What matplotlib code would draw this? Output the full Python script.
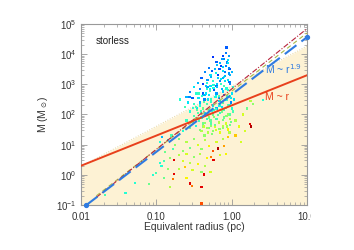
import numpy as np
import matplotlib
matplotlib.use("Agg")
import matplotlib.pyplot as plt
from matplotlib.ticker import FixedLocator, FixedFormatter, LogLocator, NullFormatter
from matplotlib.colors import Normalize
from matplotlib.transforms import Bbox

plt.rcParams['font.family'] = ['Liberation Sans', 'DejaVu Sans']

# ---- data ----
x_ticks = [0.01, 0.1, 1.0, 10.0]
x_tick_labels = ["0.01", "0.10", "1.00", "10.0"]

# clumps: log10 radius (pc), log10 mass (Msun), colour value (jet scale 0..1)
clump_logr = [
    -0.07, -0.12, -0.10, -0.25, -0.20, -0.15, -0.05, -0.08, -0.30, -0.22, -0.12, -0.03, -0.35, -0.28, -0.18, -0.10, -0.02,
    -0.40, -0.32, -0.25, -0.15, -0.05, -0.45, -0.38, -0.28, -0.20, -0.10, -0.02,
    -0.50, -0.42, -0.33, -0.23, -0.13, -0.05, -0.55, -0.47, -0.38, -0.30, -0.20, -0.10, 0.00,
    -0.60, -0.52, -0.44, -0.36, -0.27, -0.17, -0.08, -0.69, -0.56,
    -0.58, -0.50, -0.42, -0.33, -0.25, -0.15, -0.05, -0.62, -0.46, -0.38, -0.30, -0.20, -0.10, 0.00,
    -0.55, -0.45, -0.35, -0.25, -0.15, -0.05, -0.50, -0.40, -0.30, -0.20, -0.10, -0.02,
    -0.60, -0.52, -0.43, -0.35, -0.27, -0.17, -0.08, -0.02, -0.47, -0.38, -0.30, -0.22, -0.12, -0.05,
    -0.55, -0.65, -0.40, -0.25, -0.15, -0.03,
    -0.92, -0.95, -0.85, -0.80, -0.70, -0.75, -0.60, -0.50, -0.45, -0.35, -0.30, -0.20, -0.12, -0.05,
    -0.10, -0.18, -0.25, -0.40, -0.55, -0.65, -0.78, -0.88, -0.70, -0.60, -0.50, -0.42, -0.33, -0.24,
    -0.27, -0.15, -0.08,
    -0.77, -0.82, -0.90, -0.95, -0.93, -0.65, -0.55, -0.45, -0.35, -0.62, -0.70, -0.85, -0.52, -0.40,
    -0.77, -0.37, -0.60, -1.04, -1.00, -0.90, -0.78, -0.55, -0.53, -0.40, -0.28, -1.28, -1.41, -1.68,
    -0.40, -1.10, -0.82,
    0.42, 0.25, 0.28, 0.20, 0.15, 0.05, 0.10, 0.18, 0.24, 0.26, 0.05, 0.12, 0.02, 0.03, 0.00, 0.02,
    -0.14, -0.09, -0.04, -0.18, -0.26, -0.11, -0.06, -0.32, -0.16, -0.21, -0.36, -0.01, -0.13, -0.24,
    # denser core of the cloud
    -0.06, -0.11, -0.16, -0.21, -0.27, -0.33, -0.04, -0.09, -0.14, -0.19, -0.24, -0.29, -0.34, -0.39,
    -0.03, -0.07, -0.12, -0.17, -0.22, -0.27, -0.31, -0.37, -0.42, -0.47, -0.01, -0.06, -0.11, -0.16,
    -0.21, -0.26, -0.31, -0.36, -0.41, -0.46, -0.51, -0.03, -0.08, -0.13, -0.18, -0.23, -0.28, -0.33,
    -0.38, -0.43, -0.48, -0.02, -0.07, -0.12, -0.17, -0.22, -0.27, -0.32, -0.37, -0.42, -0.01, -0.06,
    -0.11, -0.16, -0.21, -0.26, -0.31, -0.36, -0.04, -0.09, -0.14, -0.19, -0.24, -0.29, -0.34, -0.44,
    -0.08, -0.13, -0.19, -0.05, -0.12, -0.02,
]
clump_logm = [
    4.22, 3.95, 3.85, 3.90, 3.75, 3.70, 3.80, 3.60, 3.55, 3.50, 3.45, 3.50, 3.40, 3.30, 3.30, 3.25, 3.30,
    3.20, 3.15, 3.10, 3.10, 3.15, 3.05, 3.00, 2.95, 2.95, 2.95, 3.00,
    2.90, 2.85, 2.85, 2.80, 2.85, 2.80, 2.75, 2.70, 2.70, 2.65, 2.70, 2.65, 2.70,
    2.58, 2.55, 2.55, 2.50, 2.50, 2.55, 2.50, 2.50, 2.57,
    2.40, 2.35, 2.40, 2.35, 2.30, 2.35, 2.30, 2.25, 2.20, 2.20, 2.15, 2.20, 2.15, 2.20,
    2.10, 2.05, 2.05, 2.00, 2.05, 2.00, 1.95, 1.90, 1.90, 1.85, 1.90, 1.85,
    1.80, 1.75, 1.78, 1.72, 1.70, 1.72, 1.70, 1.65, 1.62, 1.60, 1.55, 1.58, 1.55, 1.50,
    1.55, 1.45, 1.45, 1.45, 1.40, 1.40,
    1.26, 1.10, 1.15, 1.30, 1.20, 1.00, 1.10, 1.20, 1.00, 1.15, 0.95, 1.10, 1.20, 1.25,
    0.95, 0.87, 0.80, 0.85, 0.90, 0.80, 0.85, 0.75, 0.65, 0.70, 0.60, 0.70, 0.55, 0.49,
    0.60, 0.65, 0.70,
    0.49, 0.55, 0.45, 0.38, 0.30, 0.45, 0.40, 0.35, 0.30, 0.25, 0.20, 0.20, 0.15, 0.10,
    0.04, 0.01, -0.10, -0.01, 0.05, -0.10, -0.15, -0.29, -0.38, -0.40, 0.10, -0.27, -0.60, -0.68,
    -0.95, -0.30, -0.40,
    2.48, 2.45, 2.35, 2.20, 2.00, 1.80, 1.60, 1.45, 1.68, 1.60, 1.30, 1.10, 2.10, 2.50, 3.40, 2.90,
    3.62, 3.40, 3.95, 3.20, 3.45, 2.75, 2.60, 2.90, 2.45, 2.60, 2.65, 2.40, 2.25, 2.15,
    # denser core of the cloud
    3.72, 3.58, 3.52, 3.38, 3.25, 3.05, 3.36, 3.12, 3.02, 2.92, 2.88, 2.78, 2.70, 2.62,
    3.08, 2.86, 2.76, 2.62, 2.58, 2.42, 2.50, 2.42, 2.30, 2.25, 2.55, 2.48, 2.40, 2.28,
    2.18, 2.12, 2.02, 1.96, 2.10, 2.15, 2.22, 2.32, 2.22, 2.10, 1.98, 1.92, 1.80, 1.85,
    1.70, 1.82, 1.86, 2.00, 1.95, 1.82, 1.76, 1.66, 1.62, 1.55, 1.60, 1.48, 1.75, 1.60,
    1.62, 1.52, 1.48, 1.35, 1.40, 1.30, 3.55, 3.28, 3.18, 3.02, 2.98, 2.85, 2.95, 2.70,
    4.05, 3.85, 3.65, 3.70, 3.20, 2.60,
]
clump_color = [
    0.15, 0.12, 0.20, 0.10, 0.15, 0.25, 0.30, 0.20, 0.18, 0.25, 0.30, 0.15, 0.20, 0.30, 0.12, 0.35, 0.25,
    0.15, 0.22, 0.35, 0.20, 0.30, 0.25, 0.12, 0.30, 0.18, 0.40, 0.20,
    0.30, 0.20, 0.35, 0.15, 0.25, 0.35, 0.20, 0.35, 0.15, 0.30, 0.22, 0.18, 0.30,
    0.25, 0.15, 0.30, 0.20, 0.38, 0.25, 0.30, 0.35, 0.20,
    0.30, 0.38, 0.25, 0.40, 0.30, 0.35, 0.45, 0.40, 0.30, 0.45, 0.35, 0.25, 0.40, 0.35,
    0.35, 0.42, 0.30, 0.45, 0.38, 0.50, 0.40, 0.35, 0.50, 0.40, 0.45, 0.55,
    0.38, 0.45, 0.40, 0.50, 0.42, 0.55, 0.60, 0.45, 0.35, 0.50, 0.45, 0.60, 0.50, 0.65,
    0.45, 0.35, 0.55, 0.50, 0.62, 0.55,
    0.25, 0.35, 0.30, 0.40, 0.45, 0.50, 0.55, 0.50, 0.60, 0.55, 0.65, 0.60, 0.55, 0.70,
    0.75, 1.00, 0.85, 0.50, 0.45, 0.50, 0.40, 0.45, 0.55, 0.60, 0.50, 0.55, 0.65, 0.95,
    0.80, 0.60, 0.65,
    0.95, 0.50, 0.40, 0.35, 0.35, 0.60, 0.55, 0.65, 0.55, 0.70, 0.55, 0.50, 0.60, 0.50,
    0.95, 0.95, 0.65, 0.35, 0.40, 0.45, 0.80, 0.95, 0.80, 0.95, 0.60, 0.35, 0.35, 0.40,
    0.85, 0.45, 0.55,
    0.35, 0.55, 0.50, 0.45, 0.60, 0.55, 0.62, 0.60, 0.95, 1.00, 0.70, 0.60, 0.40, 0.30, 0.25, 0.35,
    0.12, 0.18, 0.22, 0.28, 0.15, 0.32, 0.38, 0.22, 0.28, 0.33, 0.25, 0.20, 0.30, 0.35,
    # denser core of the cloud
    0.20, 0.28, 0.15, 0.32, 0.25, 0.35, 0.22, 0.30, 0.38, 0.26, 0.33, 0.40, 0.30, 0.36,
    0.18, 0.35, 0.28, 0.40, 0.33, 0.37, 0.30, 0.42, 0.35, 0.40, 0.30, 0.38, 0.44, 0.33,
    0.40, 0.36, 0.45, 0.40, 0.38, 0.42, 0.36, 0.34, 0.40, 0.46, 0.42, 0.50, 0.44, 0.38,
    0.45, 0.40, 0.48, 0.42, 0.50, 0.46, 0.55, 0.44, 0.50, 0.52, 0.58, 0.48, 0.45, 0.52,
    0.56, 0.50, 0.60, 0.48, 0.55, 0.50, 0.20, 0.25, 0.30, 0.28, 0.35, 0.32, 0.27, 0.38,
    0.18, 0.22, 0.26, 0.30, 0.24, 0.35,
]

# relations: (coefficient, exponent)
fit_coef, fit_exp = 460.0, 1.9          # M ~ r^1.9 (blue dashed)
lin_coef, lin_exp = 200.0, 1.0          # M ~ r   (red solid)
thr_coef, thr_exp = 870.0, 1.33         # shaded threshold
sd_coef, sd_exp = 700.0, 2.0            # dark-red dashed
gr_coef, gr_exp = 590.0, 1.93           # olive dashed
fit_r = [0.0116, 10.0]
aux_r = [0.016, 10.0]
full_r = [0.01, 10.0]

# ---- figure ----
fig = plt.figure(figsize=(3.54, 2.50), dpi=100)
ax = fig.add_axes([81/354, 1-205/250, 226/354, 181/250])
ax.set_xscale('log')
ax.set_yscale('log')
ax.set_xlim(0.01, 10.0)
ax.set_ylim(0.1, 1e5)

rr = np.logspace(-2, 1, 200)
thr = thr_coef * rr ** thr_exp
ax.fill_between(rr, 0.1, thr, color='#fdf2d4', lw=0, zorder=0)
ax.plot(rr, thr, color='#e6d6a0', lw=0.7, ls=':', zorder=1)

r_pts = 10 ** np.array(clump_logr)
m_pts = 10 ** np.array(clump_logm)
ax.scatter(r_pts, m_pts, c=clump_color, cmap='jet', norm=Normalize(-0.1, 1.05),
           s=2.6, marker='s', linewidths=0, zorder=3)

ra = np.logspace(np.log10(aux_r[0]), np.log10(aux_r[1]), 100)
ax.plot(ra, gr_coef * ra ** gr_exp, color='#a8b84a', lw=0.8, ls=(0, (4, 3)), zorder=4)
ax.plot(ra, sd_coef * ra ** sd_exp, color='#b8243c', lw=0.8, ls=(0, (5, 1.5, 1, 1.5)), zorder=4)

rl = np.array(full_r)
ax.plot(rl, lin_coef * rl ** lin_exp, color='#e8401c', lw=1.4, zorder=5)

rf = np.array(fit_r)
ax.plot(rf, fit_coef * rf ** fit_exp, color='#2f7be0', lw=1.5, ls=(0, (7, 3)), zorder=6)
ax.plot(rf, fit_coef * rf ** fit_exp, ls='none', marker='o', ms=2.8, color='#2f7be0', zorder=6,
        clip_on=False)

# axes styling
for sp in ax.spines.values():
    sp.set_color('#999999')
    sp.set_linewidth(0.8)
ax.tick_params(which='both', direction='in', top=True, right=True, colors='#999999',
               labelcolor='#333333', labelsize=7)
ax.tick_params(which='major', length=4, width=0.6)
ax.tick_params(which='minor', length=2, width=0.5)
ax.xaxis.set_major_locator(FixedLocator(x_ticks))
ax.xaxis.set_major_formatter(FixedFormatter(x_tick_labels))
ax.xaxis.set_minor_locator(LogLocator(base=10, subs=np.arange(2, 10), numticks=20))
ax.xaxis.set_minor_formatter(NullFormatter())
ax.yaxis.set_major_locator(LogLocator(base=10, numticks=10))
ax.yaxis.set_minor_locator(LogLocator(base=10, subs=np.arange(2, 10), numticks=20))
ax.yaxis.set_minor_formatter(NullFormatter())
ax.tick_params(axis='x', pad=5)

ax.set_xlabel('Equivalent radius (pc)', fontsize=7.5, color='#333333', labelpad=0)
ax.set_ylabel(r'M (M$_\odot$)', fontsize=7.5, color='#333333', labelpad=4)

ax.text(0.066, 0.905, 'storless', transform=ax.transAxes, fontsize=7, color='#222222',
        va='center', ha='left')
ax.text(0.815, 0.75, r'M ~ r$^{1.9}$', transform=ax.transAxes, fontsize=7.5, color='#2f7be0',
        ha='left', va='center')
ax.text(0.815, 0.595, 'M ~ r', transform=ax.transAxes, fontsize=7.5, color='#e8401c',
        ha='left', va='center')

# the last x label is cut at the right edge of the frame in the reference
fig.canvas.draw()
clip = Bbox.from_extents(0, 0, 311, 250)
for lab in ax.get_xticklabels():
    lab.set_clip_box(clip)
    lab.set_clip_on(True)

fig.savefig('out.png', dpi=100)
